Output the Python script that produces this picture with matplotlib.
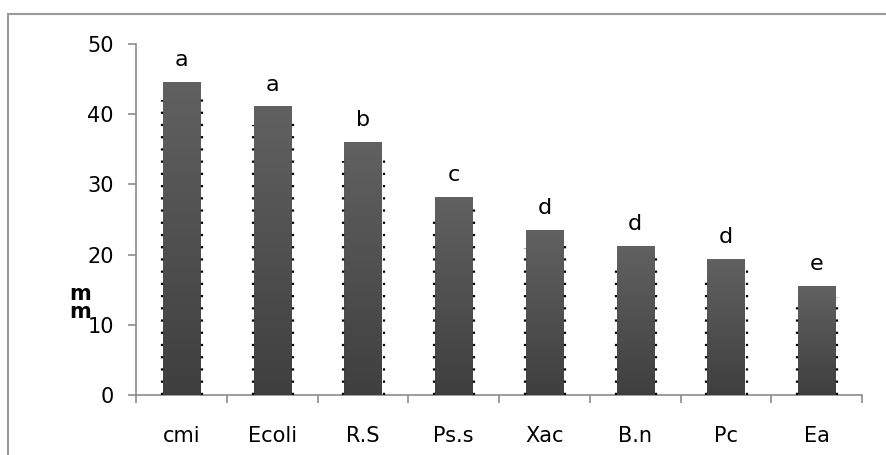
import numpy as np
import matplotlib.pyplot as plt
from matplotlib.patches import Rectangle

# data
labels = ['cmi', 'Ecoli', 'R.S', 'Ps.s', 'Xac', 'B.n', 'Pc', 'Ea']
values = [44.6, 41.1, 36.0, 28.2, 23.5, 21.2, 19.4, 15.5]
letters = ['a', 'a', 'b', 'c', 'd', 'd', 'd', 'e']

fig = plt.figure(figsize=(8.86, 4.55), dpi=100)
# outer chart frame
fig.patches.append(Rectangle((8/886, -0.1), 1.0, 1 - 14/455 + 0.1, transform=fig.transFigure,
                             fill=False, edgecolor='#9a9a9a', linewidth=1.5))
ax = fig.add_axes([136/886, 1 - 395/455, 726/886, 351/455])

x = np.arange(len(labels))
w = 0.41
grad = np.linspace(0, 1, 256).reshape(-1, 1)
cmap = plt.cm.colors.LinearSegmentedColormap.from_list('g', ['#3f3f3f', '#616161'])
for xi, v, lt in zip(x, values, letters):
    bar = ax.bar(xi, v, width=w, color='#555555', zorder=2)[0]
    im = ax.imshow(grad, cmap=cmap, extent=[xi - w/2, xi + w/2, 0, v],
                   origin='lower', aspect='auto', zorder=3)
    im.set_clip_path(bar)
    ax.plot([xi - w/2 - 0.01, xi - w/2 - 0.01], [0, v - 2.6], color='black', linestyle=(0, (1, 4.5)),
            linewidth=1.6, zorder=4)
    ax.plot([xi + w/2 + 0.025, xi + w/2 + 0.025], [0, v - 1.5], color='black', linestyle=(0, (1, 4.5)),
            linewidth=1.6, zorder=4)
    ax.text(xi, v + 1.7, lt, ha='center', va='bottom', fontsize=16)

ax.set_xlim(-0.5, len(labels) - 0.5)
ax.set_ylim(0, 50)
ax.set_yticks([0, 10, 20, 30, 40, 50])
ax.set_xticks(x)
ax.set_xticklabels(labels)
ax.set_xticks(np.arange(-0.5, len(labels)), minor=True)
ax.tick_params(axis='x', which='major', length=0, pad=22, labelsize=15)
ax.tick_params(axis='x', which='minor', length=6, color='#8c8c8c', width=1.2)
ax.tick_params(axis='y', length=6, color='#8c8c8c', width=1.2, pad=10, labelsize=15)
for s in ['top', 'right']:
    ax.spines[s].set_visible(False)
for s in ['left', 'bottom']:
    ax.spines[s].set_color('#8c8c8c')
    ax.spines[s].set_linewidth(1.2)

fig.text(80/886, 1 - 303/455, 'm\nm', ha='center', va='center', fontsize=15,
         fontweight='bold', linespacing=0.9)

fig.savefig('out.png', dpi=100)
